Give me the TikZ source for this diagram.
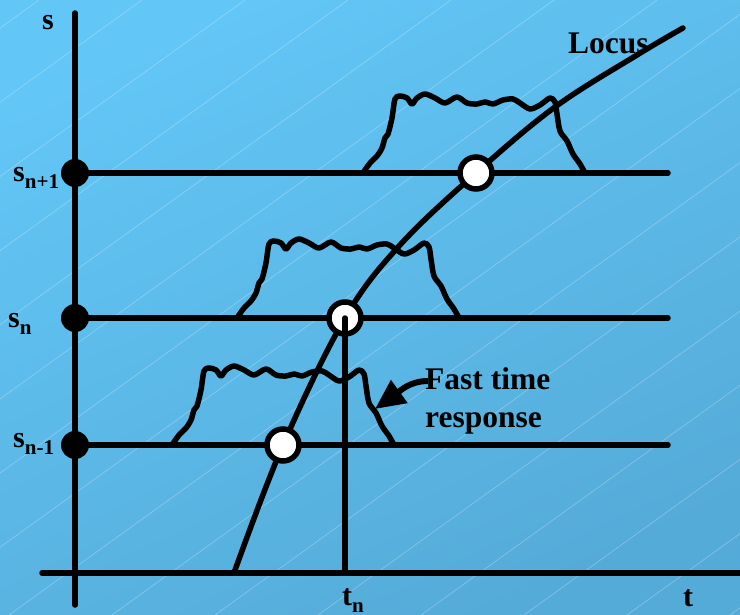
\documentclass[tikz,border=0pt]{standalone}
\usepackage{fontspec}
\setmainfont{Liberation Serif}
\usetikzlibrary{arrows.meta}
\definecolor{bgtop}{HTML}{62C6F6}
\definecolor{bgbot}{HTML}{55ABD8}
\tikzset{
  thick line/.style={line width=5.5pt, line cap=round, line join=round},
  pulse/.style={line width=5.5pt, line cap=round, line join=round},
  bdot/.style={circle, fill=black, minimum size=28pt, inner sep=0pt},
  wdot/.style={circle, draw=black, fill=white, line width=5.5pt, minimum size=32pt, inner sep=0pt},
  lab/.style={inner sep=0pt, font=\fontsize{30}{34}\selectfont\bfseries},
  biglab/.style={inner sep=0pt, font=\fontsize{31.5}{36}\selectfont\bfseries},
}
\newcommand{\sublow}[1]{\raisebox{-7pt}{\fontsize{21}{24}\selectfont\bfseries #1}}
\begin{document}
\begin{tikzpicture}[x=1pt,y=-1pt]
\useasboundingbox (0,0) rectangle (740,615);
\shade[top color=bgtop, bottom color=bgbot, shading angle=25] (0,0) rectangle (740,615);
\begin{scope}
\clip (0,0) rectangle (740,615);
\foreach \k in {-10,...,6} {
  \draw[white, opacity=0.3, line width=0.6pt] ({215+103*\k},615) -- ({215+103*\k+854},0);
}
\end{scope}

% axes
\coordinate (vtop) at (75,13);
\coordinate (vbot) at (75,605);
\coordinate (hl) at (42,573);
\coordinate (hr) at (745,573);
\draw[thick line] (vtop) -- (vbot);
\draw[thick line] (hl) -- (hr);

% level dots
\node[bdot] (d1) at (75,173) {};
\node[bdot] (d2) at (75,318) {};
\node[bdot] (d3) at (75,445) {};
\coordinate (e1) at (668,173);
\coordinate (e2) at (668,318);
\coordinate (e3) at (668,445);
\draw[thick line] (d1.center) -- (e1);
\draw[thick line] (d2.center) -- (e2);
\draw[thick line] (d3.center) -- (e3);

% pulses
\foreach \px/\py in {363/173, 237/318, 172/445} {
  \draw[pulse, shift={(\px,\py)}] plot[smooth, tension=0.5] coordinates {
    (0,0) (7,-10) (14,-17) (19,-25) (22,-35) (25,-39) (29,-55) (32,-74) (37,-77)
    (44,-75) (49,-69) (54,-75) (62,-79) (72,-75) (82,-70) (94,-76) (104,-70)
    (114,-69) (122,-71) (130,-69) (140,-73) (150,-74) (157,-70) (167,-64)
    (177,-68) (187,-75) (192,-71) (194,-59) (197,-42) (204,-32) (210,-19)
    (217,-9) (222,0)};
}

% locus
\coordinate (l0) at (234,573);
\coordinate (l5) at (683,28);
\draw[thick line] plot[smooth, tension=0.6] coordinates {
  (234,573) (283,445) (345,318) (400,245) (476,173) (555,107) (637,55) (683,28)};

% circles on locus
\node[wdot] (c1) at (476,173) {};
\node[wdot] (c2) at (345,318) {};
\node[wdot] (c3) at (283,445) {};

% t_n line
\coordinate (tnb) at (345,573);
\draw[thick line] (c2.center) -- (tnb);

% labels
\node[lab, anchor=base west] (ls) at (42,30) {s};
\node[lab, anchor=base west] (ls1) at (13,182) {s\sublow{n+1}};
\node[lab, anchor=base west] (ls2) at (8,327) {s\sublow{n}};
\node[lab, anchor=base west] (ls3) at (13,447) {s\sublow{n-1}};
\node[lab, anchor=base west] (ltn) at (342,605) {t\sublow{n}};
\node[lab, anchor=base west] (lt) at (683,606) {t};
\node[biglab, anchor=base west] (loc) at (568,54) {Locus};
\node[biglab, anchor=base west] (fast1) at (425,389) {Fast time};
\node[biglab, anchor=base west] (fast2) at (425,427) {response};

% arrow
\coordinate (atail) at (428,381);
\coordinate (ahead) at (375,409);
\draw[line width=6pt, -{Triangle[length=30pt,width=27pt]}] (atail) .. controls (410,381) and (400,391) .. (ahead);
\end{tikzpicture}
\end{document}
